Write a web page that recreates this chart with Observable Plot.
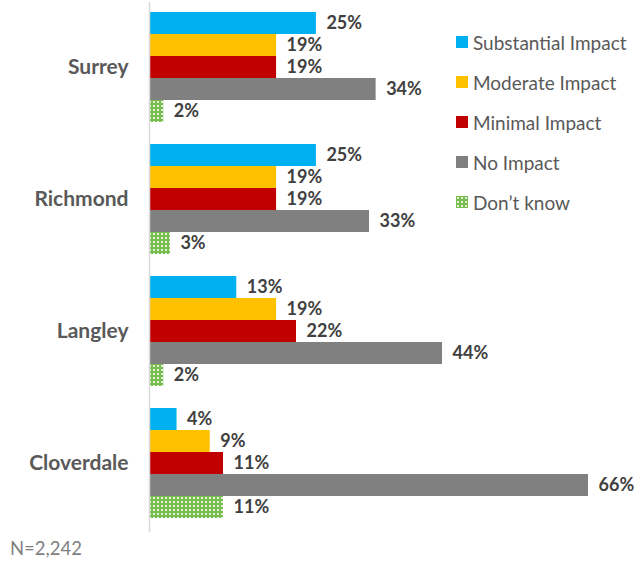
<!DOCTYPE html>
<html>
<head>
<meta charset="utf-8">
<script src="https://cdn.jsdelivr.net/npm/d3@7"></script>
<script src="https://cdn.jsdelivr.net/npm/@observablehq/plot@0.6"></script>
<style>
  html, body { margin: 0; padding: 0; background: #fff; }
  body { width: 644px; height: 563px; position: relative; font-family: Lato, "Open Sans", sans-serif; overflow: hidden; }
  #chart svg { display: block; }
  #legend { position: absolute; left: 456px; top: 29px; }
  .item { display: flex; align-items: center; height: 26px; margin-bottom: 14px; font-size: 19px; color: #595959; white-space: nowrap; }
  .item svg { margin-right: 5px; display: block; }
  #caption { position: absolute; left: 10px; top: 536px; font-size: 18.5px; color: #7f7f7f; line-height: 24px; }
</style>
</head>
<body>
<div id="chart"></div>
<div id="legend"></div>
<div id="caption">N=2,242</div>
<script>
const cities = ["Surrey", "Richmond", "Langley", "Cloverdale"];
const categories = ["Substantial Impact", "Moderate Impact", "Minimal Impact", "No Impact", "Don’t know"];
const surrey = [25, 19, 19, 34, 2];
const richmond = [25, 19, 19, 33, 3];
const langley = [13, 19, 22, 44, 2];
const cloverdale = [4, 9, 11, 66, 11];
const colors = ["#00B0F0", "#FFC000", "#C00000", "#808080", "url(#dots)"];

const series = [surrey, richmond, langley, cloverdale];
const perGroup = categories.length + 1;
const data = [];
series.forEach((vals, gi) => vals.forEach((v, ci) => data.push({
  city: cities[gi], cat: categories[ci], value: v, ci, gi,
  y1: gi * perGroup + ci, y2: gi * perGroup + ci + 1
})));
const centers = cities.map((c, i) => i * perGroup + categories.length / 2);

const chart = Plot.plot({
  width: 644,
  height: 536,
  marginLeft: 150,
  marginRight: 56,
  marginTop: 2,
  marginBottom: 4,
  style: { fontFamily: "Lato, 'Open Sans', sans-serif", color: "#595959", background: "#fff" },
  x: { domain: [0, 66], axis: null },
  y: { domain: [-10 / 22, 520 / 22], reverse: true, axis: null },
  color: { type: "identity" },
  marks: [
    Plot.rectX(data, { x1: 0, x2: "value", y1: "y1", y2: "y2", fill: d => colors[d.ci] }),
    Plot.ruleX([0], { stroke: "#d9d9d9", strokeWidth: 1.5, dx: -1 }),
    Plot.text(data, {
      x: "value", y: d => (d.y1 + d.y2) / 2, text: d => d.value + "%",
      textAnchor: "start", dx: 10, fontSize: 18, fontWeight: "bold", fill: "#404040"
    }),
    Plot.axisY({
      ticks: centers, tickFormat: (d) => cities[Math.round((d - categories.length / 2) / perGroup)],
      tickSize: 0, tickPadding: 22, fontSize: 21, fontWeight: "bold", label: null, fill: "#595959"
    })
  ]
});

// dotted pattern for "Don't know"
const ns = "http://www.w3.org/2000/svg";
function addPattern(svg) {
  const defs = document.createElementNS(ns, "defs");
  defs.innerHTML = '<pattern id="dots" patternUnits="userSpaceOnUse" width="4" height="4">' +
    '<rect width="4" height="4" fill="#78BE4E"></rect>' +
    '<rect x="1" y="1" width="2" height="2" fill="#ffffff" fill-opacity="0.8"></rect></pattern>';
  svg.insertBefore(defs, svg.firstChild);
}
addPattern(chart);
document.getElementById("chart").appendChild(chart);

const legend = document.getElementById("legend");
categories.forEach((c, i) => {
  const div = document.createElement("div");
  div.className = "item";
  div.innerHTML = `<svg width="12" height="12"><rect width="12" height="12" fill="${colors[i]}"></rect></svg><span>${c}</span>`;
  legend.appendChild(div);
});
</script>
</body>
</html>
